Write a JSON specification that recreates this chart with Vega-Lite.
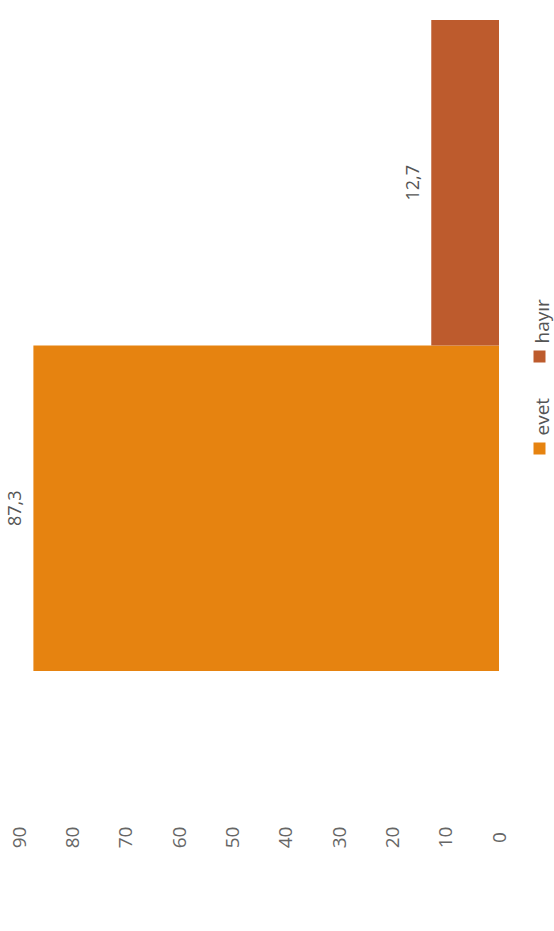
{
  "$schema": "https://vega.github.io/schema/vega-lite/v6.json",
  "width": 480,
  "height": 651,
  "autosize": {"type": "none"},
  "padding": {"left": 19, "top": 20, "right": 55, "bottom": 260},
  "background": "white",
  "data": {"values": [
    {"cevap": "evet", "yuzde": 87.3},
    {"cevap": "hayır", "yuzde": 12.7}
  ]},
  "encoding": {
    "y": {"field": "cevap", "type": "nominal", "sort": ["hayır", "evet"],
      "scale": {"paddingInner": 0, "paddingOuter": 0}, "axis": null},
    "x": {"field": "yuzde", "type": "quantitative",
      "scale": {"domain": [0, 90], "reverse": true, "nice": false},
      "axis": {"values": [0, 10, 20, 30, 40, 50, 60, 70, 80, 90], "labelAngle": 270,
        "labelAlign": "center", "labelBaseline": "middle", "ticks": false, "tickSize": 0,
        "domain": false, "grid": false, "labelPadding": 0, "offset": 166,
        "labelFontSize": 19, "labelFont": "Open Sans", "labelColor": "#666",
        "title": null, "labelFlush": false, "labelOverlap": false}}
  },
  "layer": [
    {"mark": {"type": "bar"},
      "encoding": {"color": {"field": "cevap", "type": "nominal",
        "scale": {"domain": ["hayır", "evet"], "range": ["#BD5B2D", "#E68310"]},
        "legend": {"orient": "none", "legendX": 511, "legendY": 327, "direction": "vertical",
          "title": null, "symbolType": "square", "symbolSize": 144, "symbolStrokeWidth": 0,
          "labelFontSize": 19, "labelFont": "Open Sans", "labelColor": "#555",
          "labelAlign": "left", "labelBaseline": "middle", "labelOffset": -6, "rowPadding": 34,
          "encode": {"labels": {"update": {"angle": {"value": 270}, "dx": {"value": 13}}}}}}}},
    {"mark": {"type": "text", "angle": 270, "align": "center", "baseline": "alphabetic",
      "dy": -12, "fontSize": 18, "font": "Open Sans", "color": "#555"},
      "encoding": {"text": {"field": "yuzde", "type": "quantitative", "format": ".1f"}}}
  ],
  "config": {
    "view": {"stroke": null},
    "locale": {"number": {"decimal": ",", "thousands": ".", "grouping": [3], "currency": ["", "₺"]}}
  }
}
